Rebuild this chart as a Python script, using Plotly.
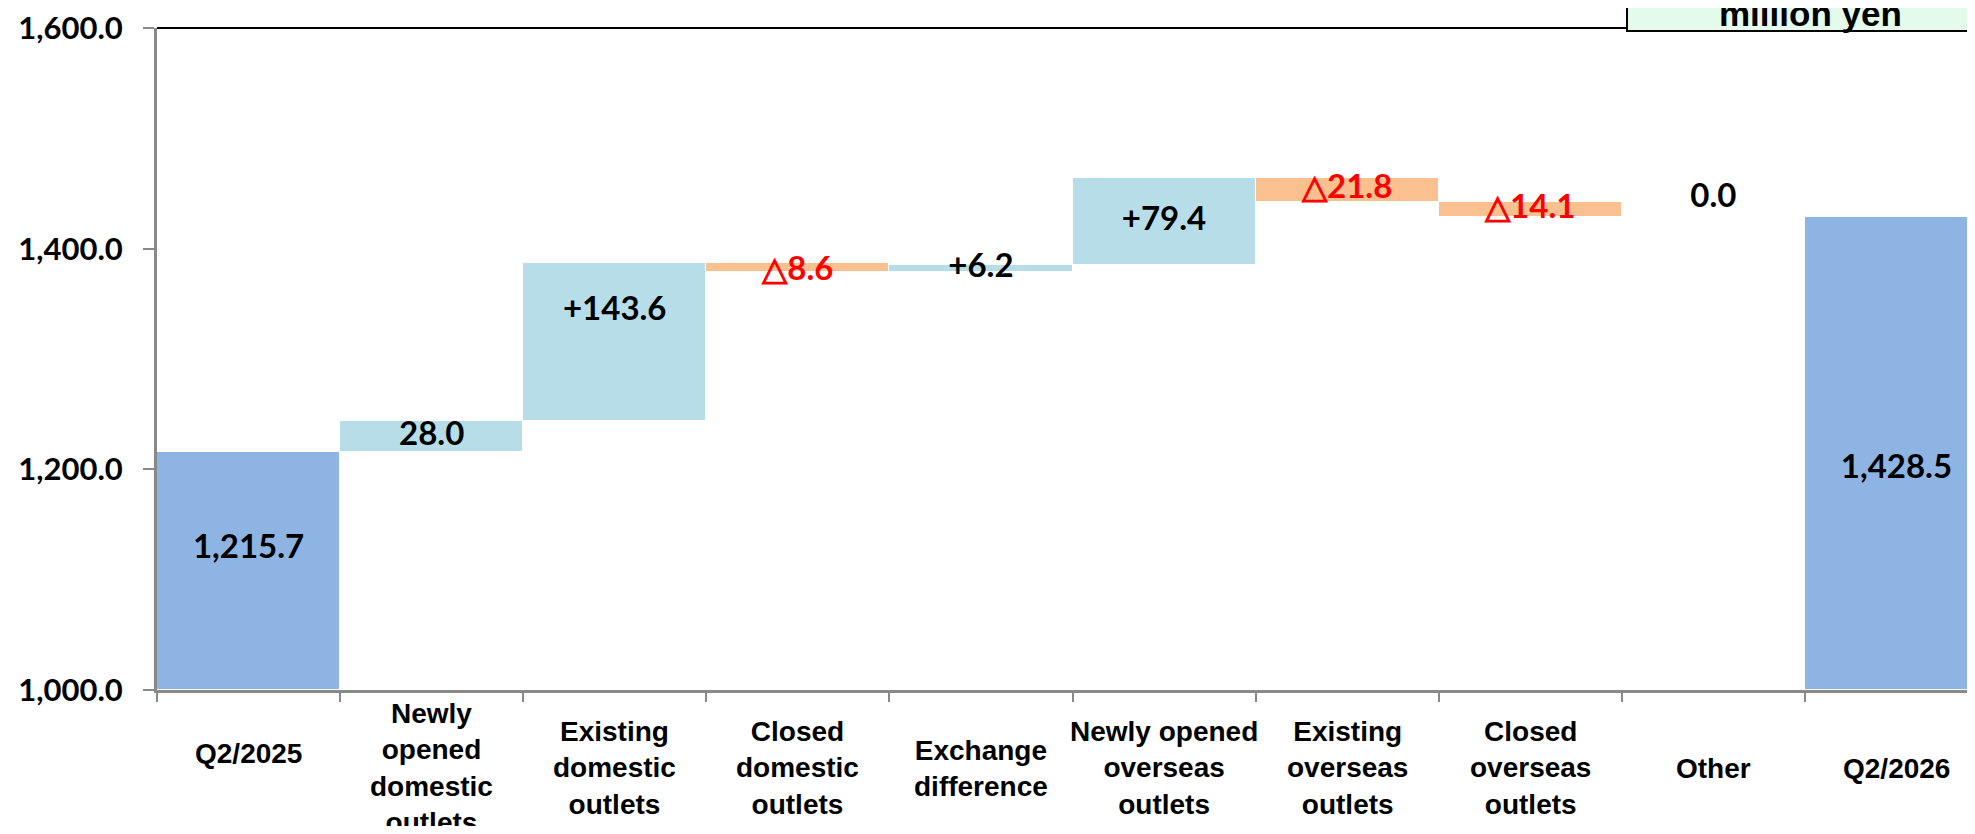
import plotly.graph_objects as go

# data
categories = ["Q2/2025", "Newly opened domestic outlets", "Existing domestic outlets",
              "Closed domestic outlets", "Exchange difference",
              "Newly opened overseas outlets", "Existing overseas outlets",
              "Closed overseas outlets", "Other", "Q2/2026"]
tick_labels = ["Q2/2025", "Newly<br>opened<br>domestic<br>outlets",
               "Existing<br>domestic<br>outlets", "Closed<br>domestic<br>outlets",
               "Exchange<br>difference", "Newly opened<br>overseas<br>outlets",
               "Existing<br>overseas<br>outlets", "Closed<br>overseas<br>outlets",
               "Other", "Q2/2026"]
start_total = 1215.7
changes = [28.0, 143.6, -8.6, 6.2, 79.4, -21.8, -14.1, 0.0]
end_total = 1428.5
value_labels = ["1,215.7", "28.0", "+143.6", "△8.6", "+6.2", "+79.4",
                "△21.8", "△14.1", "0.0", "1,428.5"]
y_ticks = [1000, 1200, 1400, 1600]

# colours / style
c_total = "#8EB4E3"
c_up = "#B7DEE8"
c_down = "#FAC090"
grey = "#898989"
num_font = "Lato"
cat_font = "Liberation Sans, Arial"
label_shift = [19, 0, 27, -4, 0, 0, 0, 0, 17, -15]
cat_up = [15, 0, 0, 0, 0, 0, 0, 0, 0, 0]

# page has an 8px body margin, so the figure is sized to fit inside it
W, H = 1959, 818
L, T, B = 149, 20, 136
plot_w = W - L
plot_h = H - T - B
cat_w = 183.1

# waterfall geometry from the values
bases, heights, colors = [1000], [start_total - 1000], [c_total]
running = start_total
for ch in changes:
    bases.append(min(running, running + ch))
    heights.append(abs(ch))
    colors.append(c_up if ch >= 0 else c_down)
    running += ch
bases.append(1000)
heights.append(end_total - 1000)
colors.append(c_total)

label_y = [b + h / 2 + s for b, h, s in zip(bases, heights, label_shift)]
label_colors = ["red" if t.startswith("△") else "black" for t in value_labels]

fig = go.Figure()
fig.add_trace(go.Bar(x=categories, y=heights, base=bases, width=1,
                     marker=dict(color=colors, line=dict(color="white", width=1)),
                     hoverinfo="skip"))
fig.add_trace(go.Scatter(x=categories, y=label_y, mode="text",
                         text=[f"<b>{t}</b>" for t in value_labels],
                         textposition="middle center",
                         textfont=dict(family=num_font, size=33, color=label_colors),
                         cliponaxis=False, hoverinfo="skip"))

# category labels under the axis
for cat, lab, up in zip(categories, tick_labels, cat_up):
    fig.add_annotation(x=cat, y=-(78 - up) / plot_h, yref="paper", xref="x",
                       text=f"<b>{lab}</b>", showarrow=False,
                       xanchor="center", yanchor="middle",
                       font=dict(family=cat_font, size=28, color="black"))

# top line and unit box
box_x0 = (1627 - 157) / plot_w
fig.add_shape(type="line", xref="paper", yref="paper", x0=0, x1=box_x0, y0=1, y1=1,
              line=dict(color="black", width=2))
fig.add_shape(type="rect", xref="paper", yref="paper", x0=box_x0, x1=1.05,
              y0=1 - 3 / plot_h, y1=1.2, fillcolor="#E4FBEC",
              line=dict(color="black", width=2))
fig.add_annotation(x=(1810 - 157) / plot_w, y=1 + 15 / plot_h, xref="paper", yref="paper",
                   text="<b>million yen</b>", showarrow=False,
                   xanchor="center", yanchor="middle",
                   font=dict(family=cat_font, size=35, color="black"))

fig.update_layout(
    width=W, height=H,
    margin=dict(l=L, r=0, t=T, b=B),
    plot_bgcolor="white", paper_bgcolor="white",
    showlegend=False, bargap=0,
    xaxis=dict(type="category", range=[-0.5, -0.5 + plot_w / cat_w], showline=True,
               linecolor=grey, linewidth=3, ticks="outside", tickson="boundaries",
               ticklen=9, tickcolor=grey, tickwidth=2, showticklabels=False,
               showgrid=False),
    yaxis=dict(range=[1000, 1600], tickvals=y_ticks, tickformat=",.1f",
               showline=True, linecolor=grey, linewidth=3, ticks="outside",
               ticklen=11, tickcolor=grey, tickwidth=2, showgrid=False,
               zeroline=False, ticklabelstandoff=14, ticklabeloverflow="allow",
               tickfont=dict(family=num_font, size=31, color="black", weight="bold")),
)

fig.write_html("out.html")
